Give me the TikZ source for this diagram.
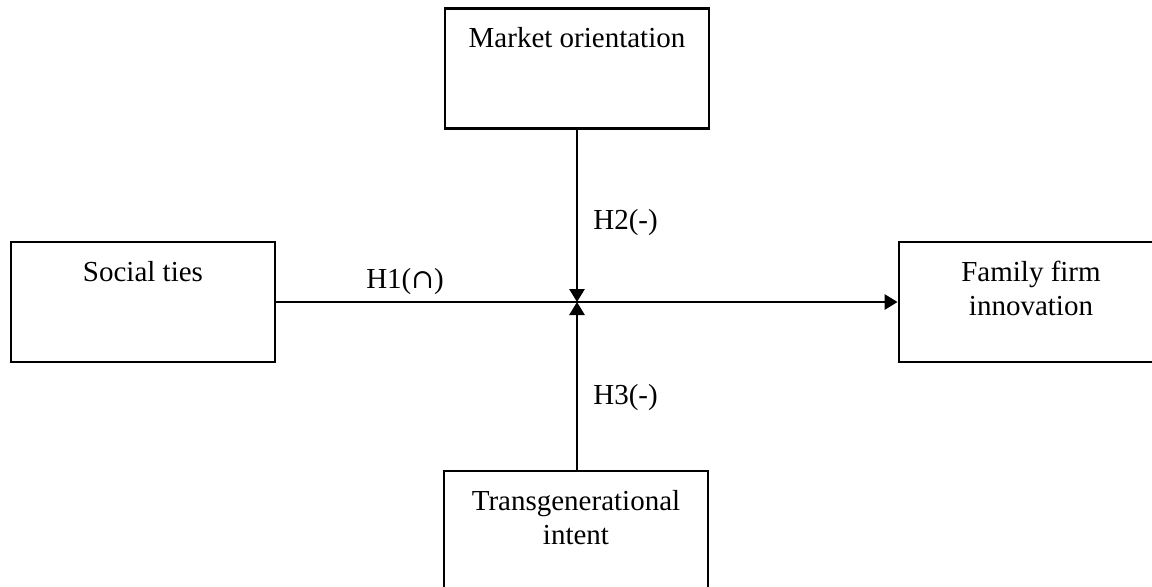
\documentclass[tikz,border=0pt]{standalone}
\usepackage{fontspec}
\setmainfont{Liberation Serif}
\newfontfamily\capfont{DejaVu Serif}
\usetikzlibrary{arrows.meta}

\begin{document}
\begin{tikzpicture}[x=0.5pt,y=-0.5pt,>={Triangle[length=6.5pt,width=7.5pt]},line width=1.4pt,
  box/.style={draw,rectangle,minimum width=132pt,minimum height=60pt,inner sep=0pt},
  boxtext/.style={anchor=north,align=center,inner sep=0pt,yshift=-9.6pt,font=\fontsize{14.5}{17}\selectfont},
  hyp/.style={inner sep=0pt,font=\fontsize{14.5}{17}\selectfont}]

  \useasboundingbox (0,0) rectangle (1152,586);

  \node[box] (ties) at (143,302) {};
  \node[box] (market) at (577,68.5) {};
  \node[box] (family) at (1031,302) {};
  \node[box] (trans) at (576,531) {};
  \coordinate (meet) at (577,302);

  \node[boxtext] (tiestext) at (ties.north) {Social ties};
  \node[boxtext] (markettext) at (market.north) {Market orientation};
  \node[boxtext] (familytext) at (family.north) {Family firm\\innovation};
  \node[boxtext] (transtext) at (trans.north) {Transgenerational\\intent};

  \draw[->] (ties.east) -- node[hyp,pos=0.207,anchor=base,yshift=7pt] (h1) {H1({\capfont\fontsize{13.5}{17}\selectfont ∩})} (family.west);
  \draw[->] (market.south) -- node[hyp,pos=0.58,anchor=base west,xshift=7.5pt] (h2) {H2(-)} (meet);
  \draw[->] (trans.north -| meet) -- node[hyp,pos=0.39,anchor=base west,xshift=7.5pt] (h3) {H3(-)} (meet);

\end{tikzpicture}
\end{document}
